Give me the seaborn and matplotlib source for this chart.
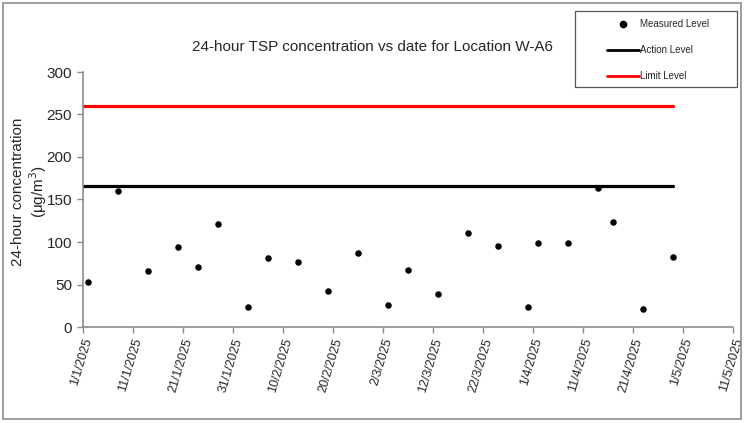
import matplotlib
matplotlib.use("Agg")
import matplotlib.pyplot as plt
from matplotlib.lines import Line2D
import seaborn as sns
import pandas as pd

# ---- data ----
sample_dates = ["2025-01-02", "2025-01-08", "2025-01-14", "2025-01-20", "2025-01-24",
                "2025-01-28", "2025-02-03", "2025-02-07", "2025-02-13", "2025-02-19",
                "2025-02-25", "2025-03-03", "2025-03-07", "2025-03-13", "2025-03-19",
                "2025-03-25", "2025-03-31", "2025-04-02", "2025-04-08", "2025-04-14",
                "2025-04-17", "2025-04-23", "2025-04-29"]
measured = [53, 160, 66, 94, 71, 121, 23, 81, 76, 42, 87, 26, 67, 39, 111,
            95, 24, 99, 99, 163, 124, 21, 82]
level_dates = ["2025-01-01", "2025-04-29"]
action_level = [166, 166]
limit_level = [260, 260]
xlim_dates = ["2025-01-01", "2025-05-11"]
tick_step_days = 10
title = "24-hour TSP concentration vs date for Location W-A6"
ylabel = "24-hour concentration\n(μg/m$^3$)"
legend_labels = ["Measured Level", "Action Level", "Limit Level"]

df = pd.DataFrame({"date": pd.to_datetime(sample_dates), "value": measured})
lv = pd.DataFrame({"date": pd.to_datetime(level_dates),
                   "action": action_level, "limit": limit_level})

sns.set_style("white")
plt.rcParams["font.family"] = ["Liberation Sans", "DejaVu Sans"]

fig = plt.figure(figsize=(7.51, 4.23), dpi=100)
# outer chart border
fig.patches.append(plt.Rectangle((3/751, 4/423), 738/751, 416/423, transform=fig.transFigure,
                                 fill=False, edgecolor="#8c8c8c", linewidth=1.2))
# legend box
fig.patches.append(plt.Rectangle((575/751, 1 - 87/423), 162/751, 76/423, transform=fig.transFigure,
                                 fill=False, edgecolor="#555555", linewidth=0.9))
ax = fig.add_axes([83/751, 1 - 327/423, 650/751, 255/423])

sns.lineplot(data=lv, x="date", y="limit", ax=ax, color="#ff0000", linewidth=2.3, label="Limit Level")
sns.lineplot(data=lv, x="date", y="action", ax=ax, color="black", linewidth=2.3, label="Action Level")
sns.scatterplot(data=df, x="date", y="value", ax=ax, color="black", s=22, edgecolor="black",
                linewidth=0, label="Measured Level", zorder=5)
ax.get_legend().remove()

x0, x1 = pd.to_datetime(xlim_dates)
ax.set_xlim(x0, x1)
ax.set_ylim(0, 300)
ax.set_yticks(range(0, 301, 50))
ticks = pd.date_range(x0, x1, freq=f"{tick_step_days}D")
ax.set_xticks(ticks)
ax.set_xticklabels([f"{d.day}/{d.month}/{d.year}" for d in ticks], rotation=73,
                   ha="right", rotation_mode="anchor", fontsize=9)
ax.tick_params(axis="x", pad=3)
ax.tick_params(axis="y", labelsize=11, pad=4)
ax.tick_params(axis="both", direction="out", length=4, width=1, color="#8c8c8c", bottom=True, left=True)
for s in ["top", "right"]:
    ax.spines[s].set_visible(False)
for s in ["left", "bottom"]:
    ax.spines[s].set_color("#8c8c8c")
    ax.spines[s].set_linewidth(1.2)
ax.set_xlabel("")
ax.set_ylabel("")
fig.text(30/751, 1 - 192/423, ylabel, rotation=90, ha="center", va="center",
         fontsize=11, linespacing=1.1)
fig.text(372/751, 1 - 47/423, title, ha="center", va="center", fontsize=11)

handles = [Line2D([], [], marker="o", color="black", linestyle="none", markersize=4.5),
           Line2D([], [], color="black", linewidth=2.0),
           Line2D([], [], color="#ff0000", linewidth=2.0)]
leg = fig.legend(handles, legend_labels, loc="upper left", bbox_to_anchor=(607/751, 1 - 19/423),
                 fontsize=7, frameon=False, handlelength=3.3, handletextpad=0.05,
                 labelspacing=1.65, borderpad=0, borderaxespad=0)

fig.savefig("out.png", dpi=100)
